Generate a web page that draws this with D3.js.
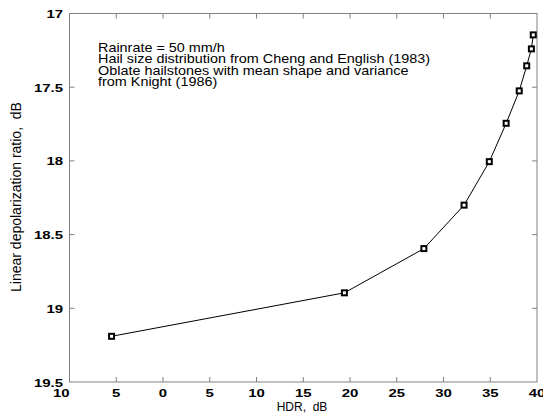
<!DOCTYPE html>
<html>
<head>
<meta charset="utf-8">
<script src="https://cdn.jsdelivr.net/npm/d3@7"></script>
<style>
    body { margin: 0; background: #fff; }
    svg text { font-family: "Liberation Sans", Arial, sans-serif; }
</style>
</head>
<body>
<div id="chart"></div>
<script>
// HDR (dB) and linear depolarization ratio (dB, shown without minus sign)
const hdrValues = [-5.5, 19.4, 27.9, 32.2, 34.9, 36.7, 38.1, 38.9, 39.4, 39.6];
const ldrValues = [19.19, 18.895, 18.595, 18.30, 18.005, 17.745, 17.525, 17.355, 17.24, 17.145];

const xTicks = [-10, -5, 0, 5, 10, 15, 20, 25, 30, 35, 40];
const yTicks = [17, 17.5, 18, 18.5, 19, 19.5];

const noteLines = [
    "Rainrate = 50 mm/h",
    "Hail size distribution from Cheng and English (1983)",
    "Oblate hailstones with mean shape and variance",
    "from Knight (1986)"
];

const width = 543;
const height = 415;
const margin = { top: 13.5, right: 6, bottom: 33, left: 69.5 };

const svg = d3.select('#chart').append('svg')
    .attr('width', width)
    .attr('height', height);

const x = d3.scaleLinear()
    .domain([-10, 40])
    .range([margin.left, width - margin.right]);

const y = d3.scaleLinear()
    .domain([17, 19.5])
    .range([margin.top, height - margin.bottom]);

const axisColor = '#808080';

// text in the original is drawn a bit wider than normal
const tickStretch = 1.3;
const noteStretch = 1.2;

// frame
svg.append('rect')
    .attr('x', x(-10))
    .attr('y', y(17))
    .attr('width', x(40) - x(-10))
    .attr('height', y(19.5) - y(17))
    .attr('fill', 'none')
    .attr('stroke', axisColor)
    .attr('stroke-width', 1);

// inward ticks on all four sides
const tickLen = 5;
xTicks.slice(1, -1).forEach(t => {
    svg.append('line')
        .attr('x1', x(t)).attr('x2', x(t))
        .attr('y1', y(19.5)).attr('y2', y(19.5) - tickLen)
        .attr('stroke', axisColor);
    svg.append('line')
        .attr('x1', x(t)).attr('x2', x(t))
        .attr('y1', y(17)).attr('y2', y(17) + tickLen)
        .attr('stroke', axisColor);
});
yTicks.slice(1, -1).forEach(t => {
    svg.append('line')
        .attr('x1', x(-10)).attr('x2', x(-10) + tickLen)
        .attr('y1', y(t)).attr('y2', y(t))
        .attr('stroke', axisColor);
    svg.append('line')
        .attr('x1', x(40)).attr('x2', x(40) - tickLen)
        .attr('y1', y(t)).attr('y2', y(t))
        .attr('stroke', axisColor);
});

// tick labels
svg.selectAll('.xlab')
    .data(xTicks)
    .enter().append('text')
    .attr('transform', d => `translate(${x(d)},${y(19.5) + 15}) scale(${tickStretch},1)`)
    .attr('text-anchor', d => d === -10 ? 'end' : 'middle')
    .attr('font-size', 11.5)
    .attr('font-weight', 'bold')
    .text(d => Math.abs(d));

svg.selectAll('.ylab')
    .data(yTicks)
    .enter().append('text')
    .attr('transform', d => `translate(${x(-10) - 6.5},${y(d) + 4.5}) scale(${tickStretch},1)`)
    .attr('text-anchor', 'end')
    .attr('font-size', 11.5)
    .attr('font-weight', 'bold')
    .text(d => d);

// axis titles
svg.append('text')
    .attr('x', 302)
    .attr('y', 411)
    .attr('text-anchor', 'middle')
    .attr('font-size', 12)
    .text('HDR,\u00a0 dB');

svg.append('text')
    .attr('transform', 'translate(21,197) rotate(-90)')
    .attr('text-anchor', 'middle')
    .attr('font-size', 14)
    .text('Linear depolarization ratio,\u00a0 dB');

// annotation
svg.append('g').selectAll('text')
    .data(noteLines)
    .enter().append('text')
    .attr('transform', (d, i) => `translate(98,${51.5 + i * 11.6}) scale(${noteStretch},1)`)
    .attr('font-size', 12)
    .text(d => d);

// line and markers
const points = d3.zip(hdrValues, ldrValues);

svg.append('path')
    .attr('d', d3.line().x(d => x(d[0])).y(d => y(d[1]))(points))
    .attr('fill', 'none')
    .attr('stroke', 'black')
    .attr('stroke-width', 1);

svg.selectAll('.marker')
    .data(points)
    .enter().append('rect')
    .attr('x', d => x(d[0]) - 2.5)
    .attr('y', d => y(d[1]) - 2.5)
    .attr('width', 5)
    .attr('height', 5)
    .attr('fill', 'white')
    .attr('stroke', 'black')
    .attr('stroke-width', 2);
</script>
</body>
</html>
